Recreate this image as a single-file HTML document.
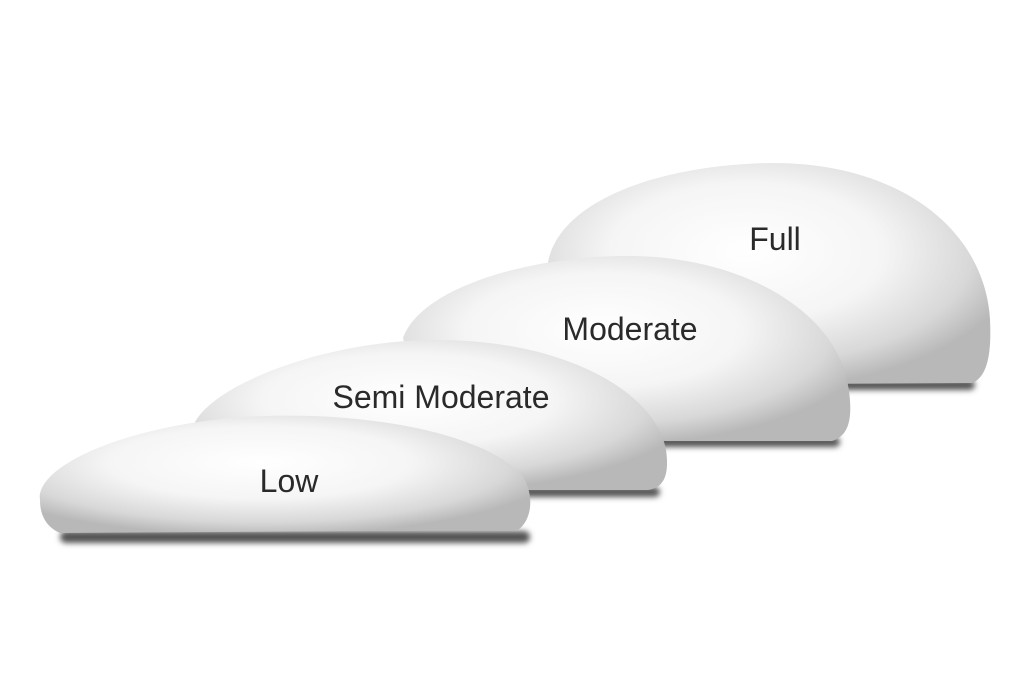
<!DOCTYPE html>
<html><head><meta charset="utf-8"><style>
html,body{margin:0;padding:0;background:#fff;}
svg{display:block;}
text{font-family:"Liberation Sans","DejaVu Sans",sans-serif;font-size:32px;fill:#2a2a2a;text-anchor:middle;}
</style></head><body>
<svg width="1024" height="683" viewBox="0 0 1024 683">
<defs>
<radialGradient id="g" cx="45%" cy="40%" r="62%">
<stop offset="0" stop-color="#ffffff"/>
<stop offset="0.5" stop-color="#f5f5f5"/>
<stop offset="0.82" stop-color="#d8d8d8"/>
<stop offset="1" stop-color="#b8b8b8"/>
</radialGradient>
<filter id="b" x="-10%" y="-200%" width="120%" height="500%"><feGaussianBlur stdDeviation="3"/></filter>
</defs>
<rect x="590" y="380" width="385" height="10" rx="5" fill="#555" filter="url(#b)"/>
<path d="M548 262 C560 200 660 165 770 163 C900 162 985 230 990 320 C992 360 985 378 972 383 L600 385 Z" fill="url(#g)"/>
<rect x="450" y="437" width="390" height="10" rx="5" fill="#555" filter="url(#b)"/>
<path d="M403 338 C420 290 520 258 620 256 C740 254 835 310 848 385 C854 420 848 436 832 441 L430 441 Z" fill="url(#g)"/>
<rect x="240" y="487" width="420" height="10" rx="5" fill="#555" filter="url(#b)"/>
<path d="M195 422 C215 385 320 342 430 340 C560 338 655 390 666 450 C670 478 662 488 648 490 L220 490 Z" fill="url(#g)"/>
<rect x="60" y="531" width="470" height="12" rx="6" fill="#555" filter="url(#b)"/>
<path d="M40 500 C35 470 110 430 230 418 C350 408 480 430 522 475 C535 495 532 520 518 530 L60 533 C44 526 40 512 40 500 Z" fill="url(#g)"/>
<text x="775" y="250">Full</text>
<text x="630" y="340">Moderate</text>
<text x="441" y="408">Semi Moderate</text>
<text x="289" y="492">Low</text>
</svg>
</body></html>
